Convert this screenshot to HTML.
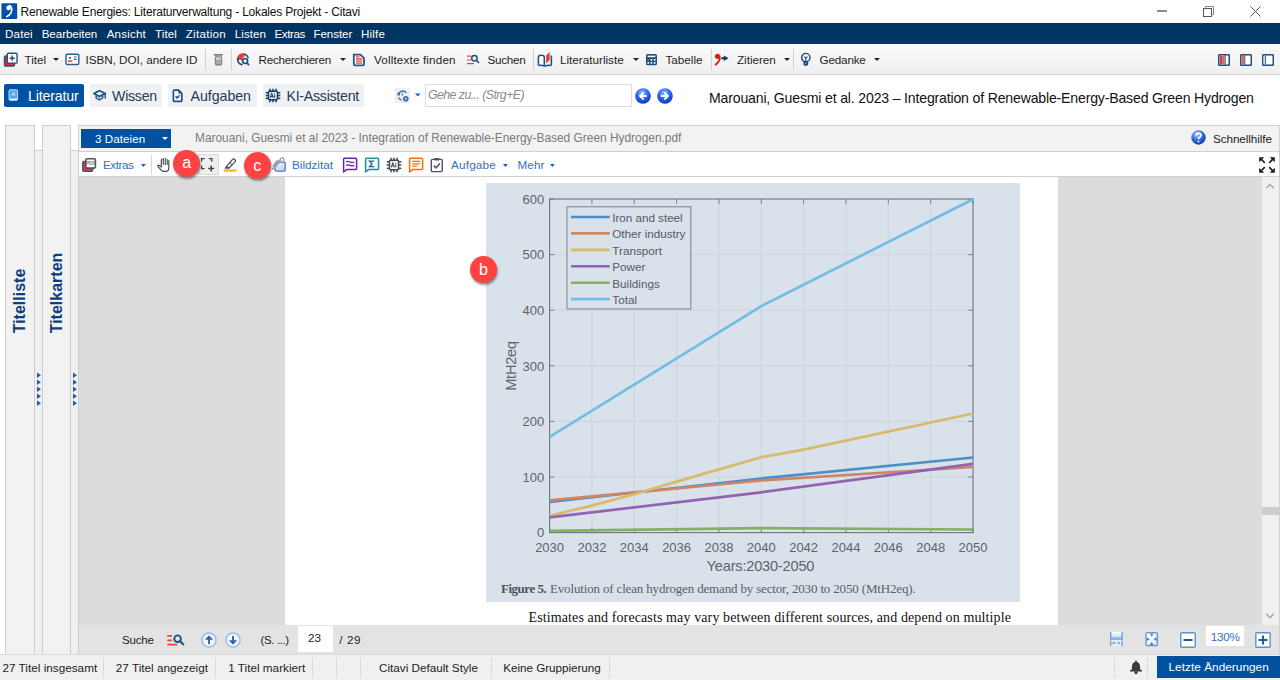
<!DOCTYPE html>
<html><head><meta charset="utf-8"><style>
html,body{margin:0;padding:0;width:1280px;height:680px;overflow:hidden;background:#fff;position:relative;font-family:"Liberation Sans",sans-serif}
.t{position:absolute;white-space:nowrap}
.r{position:absolute;box-sizing:border-box}
</style></head><body>
<div class="r" style="left:0px;top:0px;width:1280px;height:23px;background:#fff"></div>
<div class="t" style="left:20.5px;top:5.84px;font-size:12px;line-height:12px;color:#111;font-weight:normal;font-style:normal;font-family:'Liberation Sans',sans-serif;letter-spacing:-0.202px;">Renewable Energies: Literaturverwaltung - Lokales Projekt - Citavi</div>
<div class="r" style="left:0px;top:23px;width:1280px;height:21px;background:#003462"></div>
<div class="t" style="left:5.1px;top:28.28px;font-size:11.6px;line-height:11.6px;color:#fff;font-weight:normal;font-style:normal;font-family:'Liberation Sans',sans-serif;letter-spacing:0.124px;">Datei</div>
<div class="t" style="left:41.7px;top:28.28px;font-size:11.6px;line-height:11.6px;color:#fff;font-weight:normal;font-style:normal;font-family:'Liberation Sans',sans-serif;letter-spacing:-0.061px;">Bearbeiten</div>
<div class="t" style="left:106.7px;top:28.28px;font-size:11.6px;line-height:11.6px;color:#fff;font-weight:normal;font-style:normal;font-family:'Liberation Sans',sans-serif;letter-spacing:0.180px;">Ansicht</div>
<div class="t" style="left:155.1px;top:28.28px;font-size:11.6px;line-height:11.6px;color:#fff;font-weight:normal;font-style:normal;font-family:'Liberation Sans',sans-serif;letter-spacing:0.063px;">Titel</div>
<div class="t" style="left:185.7px;top:28.28px;font-size:11.6px;line-height:11.6px;color:#fff;font-weight:normal;font-style:normal;font-family:'Liberation Sans',sans-serif;letter-spacing:0.283px;">Zitation</div>
<div class="t" style="left:234.8px;top:28.28px;font-size:11.6px;line-height:11.6px;color:#fff;font-weight:normal;font-style:normal;font-family:'Liberation Sans',sans-serif;letter-spacing:0.041px;">Listen</div>
<div class="t" style="left:274.5px;top:28.28px;font-size:11.6px;line-height:11.6px;color:#fff;font-weight:normal;font-style:normal;font-family:'Liberation Sans',sans-serif;letter-spacing:-0.396px;">Extras</div>
<div class="t" style="left:313.5px;top:28.28px;font-size:11.6px;line-height:11.6px;color:#fff;font-weight:normal;font-style:normal;font-family:'Liberation Sans',sans-serif;letter-spacing:-0.089px;">Fenster</div>
<div class="t" style="left:361.1px;top:28.28px;font-size:11.6px;line-height:11.6px;color:#fff;font-weight:normal;font-style:normal;font-family:'Liberation Sans',sans-serif;letter-spacing:0.139px;">Hilfe</div>
<div class="r" style="left:0px;top:44px;width:1280px;height:31px;background:linear-gradient(#fafafa,#efefef);border-bottom:1px solid #d2d2d2"></div>
<div class="t" style="left:24.5px;top:54.10px;font-size:11.7px;line-height:11.7px;color:#1e1e1e;font-weight:normal;font-style:normal;font-family:'Liberation Sans',sans-serif;letter-spacing:-0.034px;">Titel</div>
<div class="t" style="left:85.5px;top:54.10px;font-size:11.7px;line-height:11.7px;color:#1e1e1e;font-weight:normal;font-style:normal;font-family:'Liberation Sans',sans-serif;letter-spacing:-0.025px;">ISBN, DOI, andere ID</div>
<div class="t" style="left:258.5px;top:54.10px;font-size:11.7px;line-height:11.7px;color:#1e1e1e;font-weight:normal;font-style:normal;font-family:'Liberation Sans',sans-serif;letter-spacing:-0.276px;">Recherchieren</div>
<div class="t" style="left:374.0px;top:54.10px;font-size:11.7px;line-height:11.7px;color:#1e1e1e;font-weight:normal;font-style:normal;font-family:'Liberation Sans',sans-serif;letter-spacing:0.153px;">Volltexte finden</div>
<div class="t" style="left:487.5px;top:54.10px;font-size:11.7px;line-height:11.7px;color:#1e1e1e;font-weight:normal;font-style:normal;font-family:'Liberation Sans',sans-serif;letter-spacing:-0.280px;">Suchen</div>
<div class="t" style="left:560.0px;top:54.10px;font-size:11.7px;line-height:11.7px;color:#1e1e1e;font-weight:normal;font-style:normal;font-family:'Liberation Sans',sans-serif;letter-spacing:0.002px;">Literaturliste</div>
<div class="t" style="left:665.5px;top:54.10px;font-size:11.7px;line-height:11.7px;color:#1e1e1e;font-weight:normal;font-style:normal;font-family:'Liberation Sans',sans-serif;letter-spacing:-0.011px;">Tabelle</div>
<div class="t" style="left:737.0px;top:54.10px;font-size:11.7px;line-height:11.7px;color:#1e1e1e;font-weight:normal;font-style:normal;font-family:'Liberation Sans',sans-serif;letter-spacing:-0.033px;">Zitieren</div>
<div class="t" style="left:819.5px;top:54.10px;font-size:11.7px;line-height:11.7px;color:#1e1e1e;font-weight:normal;font-style:normal;font-family:'Liberation Sans',sans-serif;letter-spacing:-0.177px;">Gedanke</div>
<div class="r" style="left:205px;top:49px;width:1px;height:21px;background:#d0d0d0"></div>
<div class="r" style="left:230.5px;top:49px;width:1px;height:21px;background:#d0d0d0"></div>
<div class="r" style="left:533px;top:49px;width:1px;height:21px;background:#d0d0d0"></div>
<div class="r" style="left:710.5px;top:49px;width:1px;height:21px;background:#d0d0d0"></div>
<div class="r" style="left:793.25px;top:49px;width:1px;height:21px;background:#d0d0d0"></div>
<svg class="r" style="left:53px;top:58px" width="6" height="3" viewBox="0 0 6 3"><path d="M0 0H6L3 3Z" fill="#222"/></svg>
<svg class="r" style="left:340px;top:58px" width="6" height="3" viewBox="0 0 6 3"><path d="M0 0H6L3 3Z" fill="#222"/></svg>
<svg class="r" style="left:632.5px;top:58px" width="6" height="3" viewBox="0 0 6 3"><path d="M0 0H6L3 3Z" fill="#222"/></svg>
<svg class="r" style="left:783.75px;top:58px" width="6" height="3" viewBox="0 0 6 3"><path d="M0 0H6L3 3Z" fill="#222"/></svg>
<svg class="r" style="left:873.75px;top:58px" width="6" height="3" viewBox="0 0 6 3"><path d="M0 0H6L3 3Z" fill="#222"/></svg>
<div class="r" style="left:0px;top:75px;width:1280px;height:49px;background:#fff"></div>
<div class="r" style="left:4px;top:84px;width:80px;height:23px;background:#0051a0;border-radius:2px"></div>
<div class="r" style="left:90px;top:84px;width:72px;height:23px;background:#eff1f3;border-radius:2px"></div>
<div class="r" style="left:168px;top:84px;width:89px;height:23px;background:#eff1f3;border-radius:2px"></div>
<div class="r" style="left:263px;top:84px;width:101px;height:23px;background:#eff1f3;border-radius:2px"></div>
<div class="t" style="left:28px;top:89.38px;font-size:14.2px;line-height:14.2px;color:#fff;font-weight:normal;font-style:normal;font-family:'Liberation Sans',sans-serif;letter-spacing:-0.166px;">Literatur</div>
<div class="t" style="left:112px;top:89.38px;font-size:14.2px;line-height:14.2px;color:#243a5a;font-weight:normal;font-style:normal;font-family:'Liberation Sans',sans-serif;letter-spacing:-0.259px;">Wissen</div>
<div class="t" style="left:190.5px;top:89.38px;font-size:14.2px;line-height:14.2px;color:#243a5a;font-weight:normal;font-style:normal;font-family:'Liberation Sans',sans-serif;letter-spacing:-0.038px;">Aufgaben</div>
<div class="t" style="left:286.5px;top:89.38px;font-size:14.2px;line-height:14.2px;color:#243a5a;font-weight:normal;font-style:normal;font-family:'Liberation Sans',sans-serif;letter-spacing:-0.271px;">KI-Assistent</div>
<div class="r" style="left:425px;top:84px;width:207px;height:23px;background:#fff;border:1px solid #dcdcdc"></div>
<div class="t" style="left:428px;top:89.39px;font-size:12.3px;line-height:12.3px;color:#8a8a8a;font-weight:normal;font-style:italic;font-family:'Liberation Sans',sans-serif;letter-spacing:-0.542px;">Gehe zu... (Strg+E)</div>
<div class="t" style="left:709px;top:91.06px;font-size:14.1px;line-height:14.1px;color:#111;font-weight:normal;font-style:normal;font-family:'Liberation Sans',sans-serif;letter-spacing:-0.176px;">Marouani, Guesmi et al. 2023 – Integration of Renewable-Energy-Based Green Hydrogen</div>
<div class="r" style="left:34px;top:150px;width:9px;height:504px;background:#f0f0f0;border-top:1px solid #d0d0d0"></div>
<div class="r" style="left:70px;top:150px;width:9px;height:504px;background:#f0f0f0;border-top:1px solid #d0d0d0"></div>
<div class="r" style="left:4.5px;top:124.5px;width:30px;height:530px;background:#f2f2f2;border:1px solid #cfcfcf"></div>
<div class="r" style="left:42px;top:124.5px;width:29px;height:530px;background:#f2f2f2;border:1px solid #cfcfcf"></div>
<div class="r" style="left:78px;top:124.5px;width:1202px;height:530px;background:#f2f2f2;border:1px solid #cfcfcf"></div>
<div class="r" style="left:80.5px;top:128.7px;width:90px;height:19.3px;background:#0051a0"></div>
<div class="t" style="left:95px;top:133.38px;font-size:11.6px;line-height:11.6px;color:#fff;font-weight:normal;font-style:normal;font-family:'Liberation Sans',sans-serif;letter-spacing:0.071px;">3 Dateien</div>
<svg class="r" style="left:162px;top:137px" width="6" height="3" viewBox="0 0 6 3"><path d="M0 0H6L3 3Z" fill="#fff"/></svg>
<div class="t" style="left:195px;top:133.13px;font-size:11.9px;line-height:11.9px;color:#7a7a7a;font-weight:normal;font-style:normal;font-family:'Liberation Sans',sans-serif;letter-spacing:0.007px;">Marouani, Guesmi et al 2023 - Integration of Renewable-Energy-Based Green Hydrogen.pdf</div>
<div class="t" style="left:1213px;top:133.10px;font-size:11.7px;line-height:11.7px;color:#222;font-weight:normal;font-style:normal;font-family:'Liberation Sans',sans-serif;letter-spacing:-0.070px;">Schnellhilfe</div>
<div class="r" style="left:79px;top:151px;width:1200px;height:26px;background:#fff;border-top:1px solid #cfcfcf;border-bottom:1px solid #cfcfcf"></div>
<div class="t" style="left:103px;top:159.40px;font-size:11.7px;line-height:11.7px;color:#2f6fcf;font-weight:normal;font-style:normal;font-family:'Liberation Sans',sans-serif;letter-spacing:-0.443px;">Extras</div>
<div class="t" style="left:292px;top:159.40px;font-size:11.7px;line-height:11.7px;color:#2f6fcf;font-weight:normal;font-style:normal;font-family:'Liberation Sans',sans-serif;letter-spacing:0.004px;">Bildzitat</div>
<div class="t" style="left:451px;top:159.40px;font-size:11.7px;line-height:11.7px;color:#2f6fcf;font-weight:normal;font-style:normal;font-family:'Liberation Sans',sans-serif;letter-spacing:0.202px;">Aufgabe</div>
<div class="t" style="left:517.5px;top:159.40px;font-size:11.7px;line-height:11.7px;color:#2f6fcf;font-weight:normal;font-style:normal;font-family:'Liberation Sans',sans-serif;letter-spacing:0.086px;">Mehr</div>
<div class="r" style="left:150.5px;top:155px;width:1px;height:20px;background:#d6d6d6"></div>
<div class="r" style="left:79px;top:177px;width:1183px;height:447.5px;background:#dcdcdc"></div>
<div class="r" style="left:285px;top:177px;width:773px;height:447.5px;background:#fff"></div>
<div class="r" style="left:485.5px;top:182.5px;width:534px;height:419px;background:#d9e1ea"></div>
<svg class="r" style="left:485px;top:182px" width="535" height="420" viewBox="485 182 535 420"><path d="M591.94 199V532.6" stroke="#c9d0d9" stroke-width="0.8"/><path d="M634.28 199V532.6" stroke="#c9d0d9" stroke-width="0.8"/><path d="M676.62 199V532.6" stroke="#c9d0d9" stroke-width="0.8"/><path d="M718.96 199V532.6" stroke="#c9d0d9" stroke-width="0.8"/><path d="M761.30 199V532.6" stroke="#c9d0d9" stroke-width="0.8"/><path d="M803.64 199V532.6" stroke="#c9d0d9" stroke-width="0.8"/><path d="M845.98 199V532.6" stroke="#c9d0d9" stroke-width="0.8"/><path d="M888.32 199V532.6" stroke="#c9d0d9" stroke-width="0.8"/><path d="M930.66 199V532.6" stroke="#c9d0d9" stroke-width="0.8"/><path d="M549.6 477.00H973" stroke="#c9d0d9" stroke-width="0.8"/><path d="M549.6 421.40H973" stroke="#c9d0d9" stroke-width="0.8"/><path d="M549.6 365.80H973" stroke="#c9d0d9" stroke-width="0.8"/><path d="M549.6 310.20H973" stroke="#c9d0d9" stroke-width="0.8"/><path d="M549.6 254.60H973" stroke="#c9d0d9" stroke-width="0.8"/><path d="M549.60 532.6V528M549.60 199V203.6" stroke="#6e757d" stroke-width="0.9"/><path d="M591.94 532.6V528M591.94 199V203.6" stroke="#6e757d" stroke-width="0.9"/><path d="M634.28 532.6V528M634.28 199V203.6" stroke="#6e757d" stroke-width="0.9"/><path d="M676.62 532.6V528M676.62 199V203.6" stroke="#6e757d" stroke-width="0.9"/><path d="M718.96 532.6V528M718.96 199V203.6" stroke="#6e757d" stroke-width="0.9"/><path d="M761.30 532.6V528M761.30 199V203.6" stroke="#6e757d" stroke-width="0.9"/><path d="M803.64 532.6V528M803.64 199V203.6" stroke="#6e757d" stroke-width="0.9"/><path d="M845.98 532.6V528M845.98 199V203.6" stroke="#6e757d" stroke-width="0.9"/><path d="M888.32 532.6V528M888.32 199V203.6" stroke="#6e757d" stroke-width="0.9"/><path d="M930.66 532.6V528M930.66 199V203.6" stroke="#6e757d" stroke-width="0.9"/><path d="M973.00 532.6V528M973.00 199V203.6" stroke="#6e757d" stroke-width="0.9"/><path d="M549.6 532.60H554.2M973 532.60H968.4" stroke="#6e757d" stroke-width="0.9"/><path d="M549.6 477.00H554.2M973 477.00H968.4" stroke="#6e757d" stroke-width="0.9"/><path d="M549.6 421.40H554.2M973 421.40H968.4" stroke="#6e757d" stroke-width="0.9"/><path d="M549.6 365.80H554.2M973 365.80H968.4" stroke="#6e757d" stroke-width="0.9"/><path d="M549.6 310.20H554.2M973 310.20H968.4" stroke="#6e757d" stroke-width="0.9"/><path d="M549.6 254.60H554.2M973 254.60H968.4" stroke="#6e757d" stroke-width="0.9"/><path d="M549.6 199.00H554.2M973 199.00H968.4" stroke="#6e757d" stroke-width="0.9"/><rect x="549.6" y="199" width="423.4" height="333.6" fill="none" stroke="#6e757d" stroke-width="1.1"/><polyline points="549.60,502.0 761.30,478.5 973.00,457.5" fill="none" stroke="#4a8fc8" stroke-width="2.7" stroke-linejoin="round"/><polyline points="549.60,500.3 761.30,480.5 973.00,467.0" fill="none" stroke="#d08466" stroke-width="2.7" stroke-linejoin="round"/><polyline points="549.60,515.8 591.94,505.6 634.28,494.2 676.62,481.6 718.96,469.4 761.30,457.2 803.64,449.6 973.00,413.5" fill="none" stroke="#d9b96a" stroke-width="2.7" stroke-linejoin="round"/><polyline points="549.60,517.4 761.30,492.3 973.00,463.8" fill="none" stroke="#9263b0" stroke-width="2.7" stroke-linejoin="round"/><polyline points="549.60,530.8 761.30,528.2 973.00,529.5" fill="none" stroke="#84b066" stroke-width="2.7" stroke-linejoin="round"/><polyline points="549.60,436.8 761.30,306.1 973.00,199.2" fill="none" stroke="#72bde6" stroke-width="2.7" stroke-linejoin="round"/><rect x="567" y="206.8" width="123.8" height="102.2" fill="#d9e1ea" stroke="#7b838b" stroke-width="1"/><path d="M571 217.00H609.7" stroke="#4a8fc8" stroke-width="2.6"/><path d="M571 233.42H609.7" stroke="#d08466" stroke-width="2.6"/><path d="M571 249.84H609.7" stroke="#d9b96a" stroke-width="2.6"/><path d="M571 266.26H609.7" stroke="#9263b0" stroke-width="2.6"/><path d="M571 282.68H609.7" stroke="#84b066" stroke-width="2.6"/><path d="M571 299.10H609.7" stroke="#72bde6" stroke-width="2.6"/></svg>
<div class="t" style="left:612.3px;top:211.90px;font-size:11.7px;line-height:11.7px;color:#555c64;font-weight:normal;font-style:normal;font-family:'Liberation Sans',sans-serif;letter-spacing:-0.035px;">Iron and steel</div>
<div class="t" style="left:612.3px;top:228.32px;font-size:11.7px;line-height:11.7px;color:#555c64;font-weight:normal;font-style:normal;font-family:'Liberation Sans',sans-serif;letter-spacing:-0.020px;">Other industry</div>
<div class="t" style="left:612.3px;top:244.74px;font-size:11.7px;line-height:11.7px;color:#555c64;font-weight:normal;font-style:normal;font-family:'Liberation Sans',sans-serif;">Transport</div>
<div class="t" style="left:612.3px;top:261.16px;font-size:11.7px;line-height:11.7px;color:#555c64;font-weight:normal;font-style:normal;font-family:'Liberation Sans',sans-serif;">Power</div>
<div class="t" style="left:612.3px;top:277.58px;font-size:11.7px;line-height:11.7px;color:#555c64;font-weight:normal;font-style:normal;font-family:'Liberation Sans',sans-serif;">Buildings</div>
<div class="t" style="left:612.3px;top:294.00px;font-size:11.7px;line-height:11.7px;color:#555c64;font-weight:normal;font-style:normal;font-family:'Liberation Sans',sans-serif;">Total</div>
<div class="t" style="left:480px;width:64.3px;text-align:right;top:526.30px;font-size:13px;line-height:13px;color:#5d646c">0</div>
<div class="t" style="left:480px;width:64.3px;text-align:right;top:470.70px;font-size:13px;line-height:13px;color:#5d646c">100</div>
<div class="t" style="left:480px;width:64.3px;text-align:right;top:415.10px;font-size:13px;line-height:13px;color:#5d646c">200</div>
<div class="t" style="left:480px;width:64.3px;text-align:right;top:359.50px;font-size:13px;line-height:13px;color:#5d646c">300</div>
<div class="t" style="left:480px;width:64.3px;text-align:right;top:303.90px;font-size:13px;line-height:13px;color:#5d646c">400</div>
<div class="t" style="left:480px;width:64.3px;text-align:right;top:248.30px;font-size:13px;line-height:13px;color:#5d646c">500</div>
<div class="t" style="left:480px;width:64.3px;text-align:right;top:192.70px;font-size:13px;line-height:13px;color:#5d646c">600</div>
<div class="t" style="left:519.60px;width:60px;text-align:center;top:540.60px;font-size:13px;line-height:13px;color:#5d646c">2030</div>
<div class="t" style="left:561.94px;width:60px;text-align:center;top:540.60px;font-size:13px;line-height:13px;color:#5d646c">2032</div>
<div class="t" style="left:604.28px;width:60px;text-align:center;top:540.60px;font-size:13px;line-height:13px;color:#5d646c">2034</div>
<div class="t" style="left:646.62px;width:60px;text-align:center;top:540.60px;font-size:13px;line-height:13px;color:#5d646c">2036</div>
<div class="t" style="left:688.96px;width:60px;text-align:center;top:540.60px;font-size:13px;line-height:13px;color:#5d646c">2038</div>
<div class="t" style="left:731.30px;width:60px;text-align:center;top:540.60px;font-size:13px;line-height:13px;color:#5d646c">2040</div>
<div class="t" style="left:773.64px;width:60px;text-align:center;top:540.60px;font-size:13px;line-height:13px;color:#5d646c">2042</div>
<div class="t" style="left:815.98px;width:60px;text-align:center;top:540.60px;font-size:13px;line-height:13px;color:#5d646c">2044</div>
<div class="t" style="left:858.32px;width:60px;text-align:center;top:540.60px;font-size:13px;line-height:13px;color:#5d646c">2046</div>
<div class="t" style="left:900.66px;width:60px;text-align:center;top:540.60px;font-size:13px;line-height:13px;color:#5d646c">2048</div>
<div class="t" style="left:943.00px;width:60px;text-align:center;top:540.60px;font-size:13px;line-height:13px;color:#5d646c">2050</div>
<div class="t" style="left:706.6px;top:558.84px;font-size:14.6px;line-height:14.6px;color:#5d646c;font-weight:normal;font-style:normal;font-family:'Liberation Sans',sans-serif;letter-spacing:-0.198px;">Years:2030-2050</div>
<div class="t" style="left:511.2px;top:366px;transform:translate(-50%,-50%) rotate(-90deg);font-size:14.5px;line-height:14.5px;color:#5d646c;letter-spacing:-0.2px">MtH2eq</div>
<div class="t" style="left:501px;top:582.40px;font-size:13px;line-height:13px;color:#4f5458;font-weight:bold;font-style:normal;font-family:'Liberation Serif',sans-serif;letter-spacing:-0.488px;">Figure 5.</div>
<div class="t" style="left:550px;top:582.40px;font-size:13px;line-height:13px;color:#5b6064;font-weight:normal;font-style:normal;font-family:'Liberation Serif',sans-serif;letter-spacing:-0.160px;">Evolution of clean hydrogen demand by sector, 2030 to 2050 (MtH2eq).</div>
<div class="r" style="left:285px;top:600px;width:773px;height:24.5px;overflow:hidden"><div class="t" style="left:243.5px;top:11.15px;font-size:14px;line-height:14px;color:#111;font-weight:normal;font-style:normal;font-family:'Liberation Serif',sans-serif;letter-spacing:0.113px;">Estimates and forecasts may vary between different sources, and depend on multiple</div>
</div>
<div class="r" style="left:1262px;top:177px;width:17px;height:447.5px;background:#f0f0f0"></div>
<div class="r" style="left:1262px;top:507px;width:17px;height:8px;background:#cdcdcd"></div>
<div class="r" style="left:79px;top:624.5px;width:1200px;height:29.5px;background:#e3e3e3"></div>
<div class="r" style="left:297.5px;top:626.3px;width:35px;height:26.2px;background:#fff"></div>
<div class="t" style="left:122px;top:635.27px;font-size:11.5px;line-height:11.5px;color:#222;font-weight:normal;font-style:normal;font-family:'Liberation Sans',sans-serif;letter-spacing:-0.162px;">Suche</div>
<div class="t" style="left:260.5px;top:635.27px;font-size:11.5px;line-height:11.5px;color:#222;font-weight:normal;font-style:normal;font-family:'Liberation Sans',sans-serif;letter-spacing:-0.376px;">(S. ...)</div>
<div class="t" style="left:308px;top:631.60px;font-size:11.7px;line-height:11.7px;color:#222;font-weight:normal;font-style:normal;font-family:'Liberation Sans',sans-serif;letter-spacing:-0.107px;">23</div>
<div class="t" style="left:339.2px;top:634.40px;font-size:11.7px;line-height:11.7px;color:#222;font-weight:normal;font-style:normal;font-family:'Liberation Sans',sans-serif;letter-spacing:0.621px;">/ 29</div>
<div class="r" style="left:1206.3px;top:626.3px;width:37.5px;height:19.8px;background:#fff"></div>
<div class="t" style="left:1210.7px;top:631.30px;font-size:11.7px;line-height:11.7px;color:#2f6fcf;font-weight:normal;font-style:normal;font-family:'Liberation Sans',sans-serif;letter-spacing:-0.231px;">130%</div>
<div class="r" style="left:0px;top:654px;width:1280px;height:26px;background:#f0f0f0;border-top:1px solid #dadada"></div>
<div class="t" style="left:2.5px;top:662.40px;font-size:11.7px;line-height:11.7px;color:#222;font-weight:normal;font-style:normal;font-family:'Liberation Sans',sans-serif;letter-spacing:0.027px;">27 Titel insgesamt</div>
<div class="t" style="left:115.8px;top:662.40px;font-size:11.7px;line-height:11.7px;color:#222;font-weight:normal;font-style:normal;font-family:'Liberation Sans',sans-serif;letter-spacing:0.029px;">27 Titel angezeigt</div>
<div class="t" style="left:228.3px;top:662.40px;font-size:11.7px;line-height:11.7px;color:#222;font-weight:normal;font-style:normal;font-family:'Liberation Sans',sans-serif;letter-spacing:0.017px;">1 Titel markiert</div>
<div class="t" style="left:379.0px;top:662.40px;font-size:11.7px;line-height:11.7px;color:#222;font-weight:normal;font-style:normal;font-family:'Liberation Sans',sans-serif;letter-spacing:0.008px;">Citavi Default Style</div>
<div class="t" style="left:503.3px;top:662.40px;font-size:11.7px;line-height:11.7px;color:#222;font-weight:normal;font-style:normal;font-family:'Liberation Sans',sans-serif;letter-spacing:-0.045px;">Keine Gruppierung</div>
<div class="r" style="left:103px;top:657px;width:1px;height:21px;background:#dadada"></div>
<div class="r" style="left:215px;top:657px;width:1px;height:21px;background:#dadada"></div>
<div class="r" style="left:312px;top:657px;width:1px;height:21px;background:#dadada"></div>
<div class="r" style="left:336px;top:657px;width:1px;height:21px;background:#dadada"></div>
<div class="r" style="left:360px;top:657px;width:1px;height:21px;background:#dadada"></div>
<div class="r" style="left:491px;top:657px;width:1px;height:21px;background:#dadada"></div>
<div class="r" style="left:609px;top:657px;width:1px;height:21px;background:#dadada"></div>
<div class="r" style="left:1114px;top:657px;width:1px;height:21px;background:#dadada"></div>
<div class="r" style="left:1147px;top:657px;width:1px;height:21px;background:#dadada"></div>
<div class="r" style="left:1157.3px;top:656.3px;width:122.7px;height:21.7px;background:#0051a0"></div>
<div class="t" style="left:1168.5px;top:662.31px;font-size:11.8px;line-height:11.8px;color:#fff;font-weight:normal;font-style:normal;font-family:'Liberation Sans',sans-serif;letter-spacing:0.034px;">Letzte Änderungen</div>
<svg class="r" style="left:1px;top:3px" width="17" height="17" viewBox="0 0 17 17"><rect x="0.4" y="0.2" width="15.8" height="15.9" rx="0.8" fill="#0450a8"/><circle cx="7.6" cy="4.9" r="2.4" fill="#fff"/><path d="M8.4 2.6C11.2 3.4 11.3 7.6 9.8 10.2 8.8 11.9 7.4 13 5.8 13.6" stroke="#fff" stroke-width="1.6" fill="none" stroke-linecap="round"/></svg>
<div class="r" style="left:1157px;top:10px;width:10px;height:1.5px;background:#8a8a8a"></div>
<svg class="r" style="left:1202px;top:5px" width="13" height="13" viewBox="0 0 13 13"><rect x="1.5" y="3.5" width="8" height="8" fill="none" stroke="#555"/><path d="M3.5 3.5V1.5H11.5V9.5H9.5" fill="none" stroke="#888"/></svg>
<svg class="r" style="left:1249px;top:5px" width="13" height="13" viewBox="0 0 13 13"><path d="M1.5 1.5L11.5 11.5M11.5 1.5L1.5 11.5" stroke="#555" stroke-width="1"/></svg>
<svg class="r" style="left:3px;top:52px" width="16" height="16" viewBox="0 0 16 16"><rect x="1.5" y="4" width="10" height="10" rx="1.2" fill="#d33" stroke="#2a4f7a" stroke-width="1.4"/><rect x="4.3" y="1.3" width="9.8" height="9.8" rx="1.2" fill="#fff" stroke="#2a4f7a" stroke-width="1.4"/><path d="M9.2 3.6V8.8M6.6 6.2H11.8" stroke="#2a4f7a" stroke-width="1.5"/></svg>
<svg class="r" style="left:65px;top:53px" width="15" height="13" viewBox="0 0 15 13"><rect x="1" y="1.2" width="12.8" height="10.3" rx="1.3" fill="#fff" stroke="#2f5d8e" stroke-width="1.4"/><circle cx="5" cy="4.8" r="1.1" fill="#2f5d8e"/><rect x="3" y="7.3" width="4.3" height="1.6" fill="#e8473a"/><path d="M8.8 4H11.6M8.8 6.4H11.6" stroke="#2f5d8e" stroke-width="1.1"/></svg>
<svg class="r" style="left:213px;top:53px" width="11" height="14" viewBox="0 0 11 14"><rect x="0.8" y="1" width="8.8" height="1.8" rx="0.5" fill="#7d7d7d"/><rect x="1.8" y="3.2" width="7.4" height="9.3" rx="1.4" fill="#858585"/><rect x="3" y="4.5" width="5" height="2.2" fill="#ddd"/><rect x="3" y="7" width="5" height="4" fill="#aaa"/></svg>
<svg class="r" style="left:233px;top:50px" width="20" height="20" viewBox="0 0 20 20"><path d="M3.9 8.3A6.2 6.2 0 0 1 12.1 3.6L11.4 6.4 9.6 7.6 9.2 10.8 7.4 9.8 5.2 9.9Z" fill="#e8392f"/><path d="M11.85 4.32A5.4 5.4 0 0 1 15.08 7.55M4.68 8.46A5.4 5.4 0 0 0 9.06 14.72" fill="none" stroke="#1f4e80" stroke-width="1.6" stroke-linecap="round"/><circle cx="12.1" cy="11" r="2.5" fill="none" stroke="#1f4e80" stroke-width="1.6"/><path d="M13.9 12.8L15.6 14.6" stroke="#1f4e80" stroke-width="1.7" stroke-linecap="round"/></svg>
<svg class="r" style="left:352px;top:53px" width="14" height="14" viewBox="0 0 14 14"><path d="M1.8 1.6H8.4L12 5.2V11.2Q12 12.4 10.8 12.4H3Q1.8 12.4 1.8 11.2Z" fill="#fff" stroke="#2a5585" stroke-width="1.8"/><path d="M3.9 3.8H7.4M3.9 6H10.2M3.9 8.2H10.2M3.9 10.2H10.2" stroke="#e6463c" stroke-width="1.3"/></svg>
<svg class="r" style="left:466px;top:53px" width="15" height="13" viewBox="0 0 15 13"><path d="M1 3.2H5M1 7H5M1 10.6H8" stroke="#e8453a" stroke-width="1.2"/><circle cx="8.4" cy="5.3" r="2.7" fill="none" stroke="#1f4e80" stroke-width="1.5"/><path d="M10.4 7.3L13 10" stroke="#1f4e80" stroke-width="1.6"/></svg>
<svg class="r" style="left:535px;top:50px" width="20" height="20" viewBox="0 0 20 20"><path d="M3.4 15.2V7.2Q3.4 5.2 6.3 5.2Q9.3 5.2 9.3 7.2V15.2" fill="#fff" stroke="#1f4e80" stroke-width="1.5"/><path d="M3.4 15.4Q6.6 14.6 9.8 16.2Q13 14.6 16.4 15.4M16.4 5.6V15.4" fill="none" stroke="#1f4e80" stroke-width="1.5"/><path d="M11.2 13.5V5.6L14.7 2.1V9.7Z" fill="#e8392f"/></svg>
<svg class="r" style="left:645px;top:53px" width="13" height="13" viewBox="0 0 13 13"><rect x="1" y="1" width="11" height="11.3" rx="1.6" fill="#1f4e80"/><rect x="2.6" y="2.6" width="7.8" height="1.6" fill="#fff"/><rect x="2.4" y="6" width="1.7" height="1.7" fill="#e8392f"/><rect x="5.6" y="6" width="1.7" height="1.7" fill="#fff"/><rect x="8.8" y="6" width="1.7" height="1.7" fill="#fff"/><rect x="2.4" y="9" width="1.7" height="1.7" fill="#fff"/><rect x="5.6" y="9" width="1.7" height="1.7" fill="#fff"/><rect x="8.8" y="9" width="1.7" height="1.7" fill="#fff"/></svg>
<svg class="r" style="left:711px;top:50px" width="20" height="20" viewBox="0 0 20 20"><circle cx="6.5" cy="6.3" r="2.6" fill="#dd1f16"/><path d="M8.6 6.4Q9.4 11.2 4.6 14.6" fill="none" stroke="#dd1f16" stroke-width="1.9" stroke-linecap="round"/><rect x="10.4" y="7.1" width="3" height="2.3" fill="#0f3f73"/><path d="M12.9 5.6L17.6 8.25 12.9 10.9Z" fill="#0f3f73"/></svg>
<svg class="r" style="left:800px;top:52px" width="12" height="15" viewBox="0 0 12 15"><circle cx="5.8" cy="5.6" r="4.2" fill="none" stroke="#1f4e80" stroke-width="1.4"/><path d="M4.2 4.7L5.8 6.2 7.4 4.7M5.8 6.2V9" fill="none" stroke="#1f4e80" stroke-width="1.1"/><path d="M3.4 9.2H8.2V12.2Q8.2 13.7 5.8 13.9Q3.4 13.7 3.4 12.2Z" fill="#1f4e80"/><circle cx="5.8" cy="11.6" r="0.8" fill="#8aa"/></svg>
<svg class="r" style="left:1218px;top:54px" width="12" height="12" viewBox="0 0 12 12"><rect x="0.7" y="0.7" width="10.6" height="10.6" rx="1.2" fill="#fff" stroke="#244f7f" stroke-width="1.6"/><rect x="1.8" y="1.6" width="1.4" height="8.8" fill="#e0483b"/><rect x="3.2" y="1.6" width="1.2" height="8.8" fill="#7a2b3a"/><rect x="4.4" y="1.6" width="2.2" height="8.8" fill="#f06050"/><path d="M7.2 1V11" stroke="#2f5d8e" stroke-width="1"/></svg>
<svg class="r" style="left:1240px;top:54px" width="12" height="12" viewBox="0 0 12 12"><rect x="0.7" y="0.7" width="10.6" height="10.6" rx="1.2" fill="#fff" stroke="#244f7f" stroke-width="1.6"/><rect x="1.8" y="1.6" width="2.4" height="8.8" fill="#f06050"/><path d="M4.8 1V11" stroke="#2f5d8e" stroke-width="1"/></svg>
<svg class="r" style="left:1261.5px;top:54px" width="12" height="12" viewBox="0 0 12 12"><rect x="0.7" y="0.7" width="10.6" height="10.6" rx="1.2" fill="#fff" stroke="#244f7f" stroke-width="1.6"/><path d="M3.6 1V11" stroke="#2f5d8e" stroke-width="1"/><rect x="1.6" y="1.6" width="1.5" height="8.8" fill="#c8d4e0"/></svg>
<svg class="r" style="left:8px;top:89px" width="11" height="13" viewBox="0 0 11 13"><rect x="1" y="0.8" width="8.6" height="10.4" rx="1" fill="#5aa5f0" stroke="#cfe6ff" stroke-width="0.9"/><rect x="1.6" y="9.6" width="7.6" height="1.6" fill="#eaf4ff"/><text x="5.3" y="6.8" font-size="5" font-family="Liberation Sans" fill="#fff" text-anchor="middle">A</text></svg>
<svg class="r" style="left:84px;top:84px" width="28" height="24" viewBox="0 0 28 24"><path d="M9.9 9.5L15.4 6.7 21.3 9.5 15.4 12.3Z" fill="#f6f7f8" stroke="#1f4e80" stroke-width="1.8" stroke-linejoin="round"/><path d="M11.4 11.2L15.4 13.2 19.4 11.2V14.3L15.4 16.7 11.4 14.3Z" fill="#1f4e80"/><path d="M12.8 13L15.4 14.4 18 13" fill="none" stroke="#f6f7f8" stroke-width="1.1"/><path d="M21.2 9.6V14.6" stroke="#1f4e80" stroke-width="1.4"/></svg>
<svg class="r" style="left:166px;top:84px" width="24" height="24" viewBox="0 0 24 24"><path d="M7.4 6.9Q7.4 6.2 8.2 6.2H12.6L15.8 9.4V16.6Q15.8 17.3 15.1 17.3H8.1Q7.4 17.3 7.4 16.6Z" fill="#fff" stroke="#1f4e80" stroke-width="1.7" stroke-linejoin="round"/><path d="M12.4 6.2L15.8 9.6H12.4Z" fill="#1f4e80"/><path d="M9.6 12.4L11.2 13.9 13.6 11.2" fill="none" stroke="#1f4e80" stroke-width="1.5"/></svg>
<svg class="r" style="left:265px;top:88px" width="16" height="15" viewBox="0 0 16 15"><g fill="#0f3f73"><rect x="3.5" y="3.3" width="9.0" height="8.4" rx="1" fill="none" stroke="#0f3f73" stroke-width="1.5"/><rect x="4.2" y="0.7" width="1.5" height="2.8"/><rect x="4.2" y="11.5" width="1.5" height="2.8"/><rect x="0.7" y="4.0" width="2.8" height="1.5"/><rect x="12.5" y="4.0" width="2.8" height="1.5"/><rect x="7.2" y="0.7" width="1.5" height="2.8"/><rect x="7.2" y="11.5" width="1.5" height="2.8"/><rect x="0.7" y="6.8" width="2.8" height="1.5"/><rect x="12.5" y="6.8" width="2.8" height="1.5"/><rect x="10.3" y="0.7" width="1.5" height="2.8"/><rect x="10.3" y="11.5" width="1.5" height="2.8"/><rect x="0.7" y="9.6" width="2.8" height="1.5"/><rect x="12.5" y="9.6" width="2.8" height="1.5"/><rect x="9.10" y="6.90" width="1.1" height="2.9"/><rect x="9.10" y="5.30" width="1.1" height="1"/></g><path d="M5.20 9.90L6.80 5.30L8.40 9.90M5.80 8.40H7.80" fill="none" stroke="#0f3f73" stroke-width="1.05"/></svg>
<div class="r" style="left:395px;top:88px;width:15px;height:15px;background:#eceff2"></div>
<svg class="r" style="left:396px;top:89px" width="14" height="14" viewBox="0 0 14 14"><path d="M2.2 6.6A4.6 4.6 0 0 1 10.4 3.8" fill="none" stroke="#3f6f9f" stroke-width="1.3"/><path d="M1.3 4.5L3.6 4.1 3.2 6.3Z" fill="#3f6f9f" stroke="#3f6f9f"/><path d="M2.6 8.6A4.6 4.6 0 0 0 5.6 11.2" fill="none" stroke="#3f6f9f" stroke-width="1.3"/><path d="M6.2 3.8V6.8" stroke="#3f6f9f" stroke-width="1"/><circle cx="9.8" cy="9.8" r="2.8" fill="#3f6f9f"/><rect x="9.3" y="8.6" width="1" height="2.4" fill="#fff"/></svg>
<svg class="r" style="left:415px;top:93px" width="6" height="4" viewBox="0 0 6 4"><path d="M0 0.5H5.5L2.75 3.5Z" fill="#1060d0"/></svg>
<svg class="r" style="left:635px;top:87.5px" width="16" height="16" viewBox="0 0 16 16"><defs><radialGradient id="gb635" cx="0.45" cy="0.3" r="0.75"><stop offset="0" stop-color="#9cc4ff"/><stop offset="0.45" stop-color="#2f6cf0"/><stop offset="1" stop-color="#0a2fb0"/></radialGradient></defs><circle cx="8" cy="8" r="7.8" fill="url(#gb635)"/><path d="M11 8H5.4M8.2 5L5 8 8.2 11" fill="none" stroke="#fff" stroke-width="1.8" stroke-linecap="round" stroke-linejoin="round"/></svg>
<svg class="r" style="left:657px;top:87.5px" width="16" height="16" viewBox="0 0 16 16"><defs><radialGradient id="gb657" cx="0.45" cy="0.3" r="0.75"><stop offset="0" stop-color="#9cc4ff"/><stop offset="0.45" stop-color="#2f6cf0"/><stop offset="1" stop-color="#0a2fb0"/></radialGradient></defs><circle cx="8" cy="8" r="7.8" fill="url(#gb657)"/><path d="M4.6 8H10.4M7.8 5L11 8 7.8 11" fill="none" stroke="#fff" stroke-width="1.8" stroke-linecap="round" stroke-linejoin="round"/></svg>
<svg class="r" style="left:1190.5px;top:130px" width="15" height="15" viewBox="0 0 15 15"><defs><radialGradient id="gh" cx="0.4" cy="0.3" r="0.8"><stop offset="0" stop-color="#a8c8ff"/><stop offset="0.5" stop-color="#2f6ae0"/><stop offset="1" stop-color="#0b2f9f"/></radialGradient></defs><circle cx="7.5" cy="7.5" r="7.2" fill="url(#gh)"/><path d="M5 5.6Q5 3.2 7.6 3.2Q10.2 3.3 10 5.5Q9.8 6.9 8.2 7.6Q7.5 8 7.5 9.2" fill="none" stroke="#fff" stroke-width="1.7"/><circle cx="7.5" cy="11.6" r="1" fill="#fff"/></svg>
<svg class="r" style="left:78px;top:154px" width="22" height="22" viewBox="0 0 22 22"><rect x="4.7" y="7.3" width="10" height="10" rx="1" fill="#e03a2e" stroke="#4a5560" stroke-width="1.3"/><rect x="7.8" y="4.7" width="9.6" height="9.4" rx="1.3" fill="#fff" stroke="#4a5560" stroke-width="1.6"/><text x="12.6" y="11.3" font-size="4.6" font-family="Liberation Sans" font-weight="bold" fill="#7a7a7a" text-anchor="middle">PDF</text></svg>
<svg class="r" style="left:140.5px;top:164px" width="5" height="3" viewBox="0 0 5 3"><path d="M0 0H4.8L2.4 2.9Z" fill="#0b5ed0"/></svg>
<svg class="r" style="left:156px;top:156px" width="16" height="17" viewBox="0 0 16 17"><path d="M5.3 11V4.4Q5.3 3.4 6.1 3.4M12.8 4.6V11.4Q12.8 15.4 9.6 15.4H7.8Q6.2 15.4 5.2 14.2L1.9 10.4Q1.4 9.6 2.1 9.2Q2.8 8.8 3.6 9.6L5.3 11.2" fill="#fff" stroke="#3c4650" stroke-width="1.15" stroke-linejoin="round" stroke-linecap="round"/><path d="M7.3 8.4V2.6M9.3 8.4V2.2M11.2 8.4V3.2" stroke="#3c4650" stroke-width="1.05" stroke-linecap="round"/></svg>
<div class="r" style="left:197.8px;top:154.3px;width:21px;height:21.2px;background:#efefef;border:1px solid #dadada"></div>
<svg class="r" style="left:200px;top:157px" width="16" height="16" viewBox="0 0 16 16"><path d="M1.6 4.6V1.6H4.6M8.8 1.6H11.8V4.6M1.6 8.6V11.6H4.6" fill="none" stroke="#3c4650" stroke-width="1.4"/><path d="M11.2 8.4V14.4M8.2 11.4H14.2" stroke="#3c4650" stroke-width="1.5"/></svg>
<svg class="r" style="left:223px;top:157px" width="14" height="16" viewBox="0 0 14 16"><path d="M3.4 9.6L9.6 2.4Q10.4 1.5 11.4 2.2L12.2 2.9Q13 3.8 12.2 4.6L5.8 11.2Z" fill="#fff" stroke="#4a525c" stroke-width="1.3" stroke-linejoin="round"/><path d="M3.4 9.6L2.2 11.4 3.4 11.2 5.8 11.2" fill="#4a525c" stroke="#4a525c" stroke-width="0.9"/><path d="M6.8 5.6L9.4 8" stroke="#4a525c" stroke-width="1"/><rect x="0.8" y="12.2" width="12.8" height="2.6" fill="#f6c22c"/></svg>
<svg class="r" style="left:268px;top:154px" width="22" height="22" viewBox="0 0 22 22"><defs><linearGradient id="gq" x1="0" y1="0" x2="1" y2="1"><stop offset="0" stop-color="#ffffff"/><stop offset="1" stop-color="#b4c6ee"/></linearGradient></defs><rect x="7.2" y="8.2" width="10" height="9" rx="1.2" fill="url(#gq)" stroke="#5078d0" stroke-width="1.3"/><path d="M4.2 15.4L12.6 4.8Q14 3 15.4 4.2Q16.6 5.4 15.6 7.4" fill="none" stroke="#8a939c" stroke-width="1.2"/><path d="M5.6 16L13.4 6.2M4.6 12.4L9.6 6" fill="none" stroke="#9aa3ac" stroke-width="1.1"/></svg>
<svg class="r" style="left:342px;top:157px" width="16" height="16" viewBox="0 0 16 16"><path d="M2.4 1.3H13.4Q14.6 1.3 14.6 2.5V11.4Q14.6 12.6 13.4 12.6H4.6L1.6 15V2.5Q1.6 1.3 2.4 1.3Z" fill="#fff" stroke="#6c21b4" stroke-width="1.5" stroke-linejoin="round"/><path d="M4 5Q6 3.9 8 5Q10 6.1 12.3 5M4 8.4Q6 7.3 8 8.4Q10 9.5 12.3 8.4" fill="none" stroke="#6c21b4" stroke-width="1.3"/></svg>
<svg class="r" style="left:364px;top:157px" width="16" height="16" viewBox="0 0 16 16"><path d="M2.4 1.3H13.4Q14.6 1.3 14.6 2.5V11.4Q14.6 12.6 13.4 12.6H4.6L1.6 15V2.5Q1.6 1.3 2.4 1.3Z" fill="#eef6f8" stroke="#1b93a3" stroke-width="1.5" stroke-linejoin="round"/><path d="M10.2 4.2H5.6L8 7 5.6 9.6H10.2" fill="none" stroke="#2a6b7a" stroke-width="1.3"/></svg>
<svg class="r" style="left:386px;top:157px" width="16" height="16" viewBox="0 0 16 16"><g fill="#434b54"><rect x="3.5" y="3.3" width="9.0" height="9.4" rx="1" fill="none" stroke="#434b54" stroke-width="1.5"/><rect x="4.2" y="0.7" width="1.5" height="2.8"/><rect x="4.2" y="12.5" width="1.5" height="2.8"/><rect x="0.7" y="4.0" width="2.8" height="1.5"/><rect x="12.5" y="4.0" width="2.8" height="1.5"/><rect x="7.2" y="0.7" width="1.5" height="2.8"/><rect x="7.2" y="12.5" width="1.5" height="2.8"/><rect x="0.7" y="7.2" width="2.8" height="1.5"/><rect x="12.5" y="7.2" width="2.8" height="1.5"/><rect x="10.3" y="0.7" width="1.5" height="2.8"/><rect x="10.3" y="12.5" width="1.5" height="2.8"/><rect x="0.7" y="10.6" width="2.8" height="1.5"/><rect x="12.5" y="10.6" width="2.8" height="1.5"/><rect x="9.10" y="7.40" width="1.1" height="2.9"/><rect x="9.10" y="5.80" width="1.1" height="1"/></g><path d="M5.20 10.40L6.80 5.80L8.40 10.40M5.80 8.90H7.80" fill="none" stroke="#434b54" stroke-width="1.05"/></svg>
<svg class="r" style="left:408px;top:157px" width="16" height="16" viewBox="0 0 16 16"><path d="M2.4 1.3H13.4Q14.6 1.3 14.6 2.5V11.4Q14.6 12.6 13.4 12.6H4.6L1.6 15V2.5Q1.6 1.3 2.4 1.3Z" fill="#fff" stroke="#ff6a14" stroke-width="1.5" stroke-linejoin="round"/><path d="M4.2 4.4H12.2M4.2 6.8H12.2M4.2 9.2H9" stroke="#ff6a14" stroke-width="1.2"/></svg>
<svg class="r" style="left:430px;top:157px" width="14" height="16" viewBox="0 0 14 16"><rect x="1.3" y="2.4" width="11" height="12.2" rx="1.3" fill="#fff" stroke="#4a5560" stroke-width="1.4"/><rect x="4.2" y="1" width="5.2" height="2.6" rx="0.8" fill="#4a5560"/><path d="M3.8 8.6L6 10.8 10 6.4" fill="none" stroke="#4a5560" stroke-width="1.5"/></svg>
<svg class="r" style="left:503.3px;top:164px" width="5" height="3" viewBox="0 0 5 3"><path d="M0 0H4.8L2.4 2.9Z" fill="#0b5ed0"/></svg>
<svg class="r" style="left:549.5px;top:164px" width="5" height="3" viewBox="0 0 5 3"><path d="M0 0H4.8L2.4 2.9Z" fill="#0b5ed0"/></svg>
<svg class="r" style="left:1258px;top:156px" width="18" height="18" viewBox="0 0 18 18"><g fill="#1e1e1e"><path d="M1.2 1.2H6.2L1.2 6.2Z"/><path d="M16.8 1.2H11.8L16.8 6.2Z"/><path d="M1.2 16.8H6.2L1.2 11.8Z"/><path d="M16.8 16.8H11.8L16.8 11.8Z"/></g><path d="M3 3L6.8 6.8M15 3L11.2 6.8M3 15L6.8 11.2M15 15L11.2 11.2" stroke="#1e1e1e" stroke-width="1.7"/></svg>
<svg class="r" style="left:1265px;top:182px" width="10" height="8" viewBox="0 0 10 8"><path d="M1.4 6L5 2.4 8.6 6" fill="none" stroke="#9a9a9a" stroke-width="1.1"/></svg>
<svg class="r" style="left:1265px;top:612px" width="10" height="8" viewBox="0 0 10 8"><path d="M1.4 2L5 5.6 8.6 2" fill="none" stroke="#9a9a9a" stroke-width="1.1"/></svg>
<div class="t" style="left:19.8px;top:301px;transform:translate(-50%,-50%) rotate(-90deg);font-size:16px;line-height:16px;font-weight:bold;color:#0d3f7a">Titelliste</div>
<div class="t" style="left:56.8px;top:292.5px;transform:translate(-50%,-50%) rotate(-90deg);font-size:16px;line-height:16px;font-weight:bold;color:#0d3f7a">Titelkarten</div>
<svg class="r" style="left:37px;top:372px" width="5" height="36" viewBox="0 0 5 36"><path d="M0 0.5L4 3.2L0 5.9Z" fill="#1f5fb0"/><path d="M0 7.5L4 10.2L0 12.9Z" fill="#1f5fb0"/><path d="M0 14.5L4 17.2L0 19.9Z" fill="#1f5fb0"/><path d="M0 21.5L4 24.2L0 26.9Z" fill="#1f5fb0"/><path d="M0 28.5L4 31.2L0 33.9Z" fill="#1f5fb0"/></svg>
<svg class="r" style="left:72.8px;top:372px" width="5" height="36" viewBox="0 0 5 36"><path d="M0 0.5L4 3.2L0 5.9Z" fill="#1f5fb0"/><path d="M0 7.5L4 10.2L0 12.9Z" fill="#1f5fb0"/><path d="M0 14.5L4 17.2L0 19.9Z" fill="#1f5fb0"/><path d="M0 21.5L4 24.2L0 26.9Z" fill="#1f5fb0"/><path d="M0 28.5L4 31.2L0 33.9Z" fill="#1f5fb0"/></svg>
<svg class="r" style="left:166px;top:633px" width="19" height="14" viewBox="0 0 19 14"><path d="M1.3 2.8H6M1.3 7.4H6M1.3 11.6H11.2" stroke="#e8453a" stroke-width="1.8"/><circle cx="11.6" cy="5.7" r="3.3" fill="none" stroke="#1f4e80" stroke-width="1.9"/><path d="M14 8.2L17.4 11.4" stroke="#1f4e80" stroke-width="2" stroke-linecap="round"/></svg>
<svg class="r" style="left:201px;top:632px" width="16" height="16" viewBox="0 0 16 16"><defs><radialGradient id="gu201" cx="0.5" cy="0.5" r="0.6"><stop offset="0.3" stop-color="#ffffff"/><stop offset="1" stop-color="#c6dcf8"/></radialGradient></defs><circle cx="8" cy="8" r="7.2" fill="url(#gu201)" stroke="#8fb6e8" stroke-width="1.2"/><path d="M8 12V5M5 7.8L8 4.6 11 7.8" fill="none" stroke="#2d65a8" stroke-width="1.9" stroke-linejoin="round"/></svg>
<svg class="r" style="left:225px;top:632px" width="16" height="16" viewBox="0 0 16 16"><defs><radialGradient id="gu225" cx="0.5" cy="0.5" r="0.6"><stop offset="0.3" stop-color="#ffffff"/><stop offset="1" stop-color="#c6dcf8"/></radialGradient></defs><circle cx="8" cy="8" r="7.2" fill="url(#gu225)" stroke="#8fb6e8" stroke-width="1.2"/><path d="M8 4V11M5 8.2L8 11.4 11 8.2" fill="none" stroke="#2d65a8" stroke-width="1.9" stroke-linejoin="round"/></svg>
<svg class="r" style="left:1106px;top:628px" width="56" height="22" viewBox="0 0 56 22"><defs><linearGradient id="gfw" x1="0" y1="0" x2="0" y2="1"><stop offset="0" stop-color="#ffffff"/><stop offset="1" stop-color="#c9dcf0"/></linearGradient><linearGradient id="gfp" x1="0" y1="0" x2="1" y2="1"><stop offset="0" stop-color="#ffffff"/><stop offset="1" stop-color="#c4d8ee"/></linearGradient></defs><rect x="4.6" y="4" width="11.6" height="6" fill="url(#gfw)"/><rect x="4.2" y="9.4" width="12.6" height="2.6" fill="#8fb2d8"/><rect x="4.6" y="12.2" width="11.6" height="5.6" fill="#e4eef8"/><path d="M4.7 4V11.6M16 4V11.6M4.7 12.4V17.9M16 12.4V17.9" stroke="#6d9fd2" stroke-width="1.3"/><path d="M6.2 14.9L8.4 13.6V16.2Z M14.4 14.9L12.2 13.6V16.2Z" fill="#3f7fc4"/><path d="M8 14.9H12.6" stroke="#a8c4e4" stroke-width="0.9"/><rect x="40" y="4.7" width="11.4" height="13" rx="1.2" fill="url(#gfp)" stroke="#5f98d0" stroke-width="1.3"/><path d="M45.7 8.4L44 5.4H47.4Z M45.7 14L44 17H47.4Z M43.6 11.2L40.8 9.6V12.8Z M47.8 11.2L50.6 9.6V12.8Z" fill="#3a7cc2"/><path d="M42 6.8L49.4 15.6M49.4 6.8L42 15.6" stroke="#ffffff" stroke-width="1.2" opacity="0.9"/></svg>
<svg class="r" style="left:1180px;top:631.5px" width="16" height="16" viewBox="0 0 16 16"><rect x="0.8" y="0.8" width="14.4" height="14.4" rx="1" fill="#fff" stroke="#5d94cc" stroke-width="1.4"/><path d="M3.5 8H12.5" stroke="#1f5aa0" stroke-width="2"/></svg>
<svg class="r" style="left:1254.5px;top:631.5px" width="16" height="16" viewBox="0 0 16 16"><rect x="0.8" y="0.8" width="14.4" height="14.4" rx="1" fill="#fff" stroke="#5d94cc" stroke-width="1.4"/><path d="M3.5 8H12.5M8 3.5V12.5" stroke="#1f5aa0" stroke-width="2"/></svg>
<svg class="r" style="left:1129px;top:659px" width="14" height="16" viewBox="0 0 14 16"><path d="M2 11.6Q3 10.4 3 7.8Q3 3.2 7 3Q11 3.2 11 7.8Q11 10.4 12 11.6Z" fill="#3a3a3a"/><rect x="1" y="11" width="12" height="1.6" rx="0.6" fill="#3a3a3a"/><circle cx="7" cy="13.6" r="1.6" fill="#3a3a3a"/><rect x="6.2" y="1.6" width="1.6" height="2" fill="#3a3a3a"/></svg>
<div class="r" style="left:173.2px;top:149.9px;width:26.8px;height:26.8px;border-radius:50%;background:#ff4242;box-shadow:0.6px 1.8px 2.2px rgba(30,60,60,0.55)"></div>
<div class="t" style="left:176.6px;width:20px;text-align:center;top:155.4px;font-size:16px;line-height:16px;color:#fff">a</div>
<div class="r" style="left:243.8px;top:152.0px;width:26.8px;height:26.8px;border-radius:50%;background:#ff4242;box-shadow:0.6px 1.8px 2.2px rgba(30,60,60,0.55)"></div>
<div class="t" style="left:247.2px;width:20px;text-align:center;top:157.5px;font-size:16px;line-height:16px;color:#fff">c</div>
<div class="r" style="left:470.0px;top:256.0px;width:26.8px;height:26.8px;border-radius:50%;background:#ff4242;box-shadow:0.6px 1.8px 2.2px rgba(30,60,60,0.55)"></div>
<div class="t" style="left:473.4px;width:20px;text-align:center;top:261.5px;font-size:16px;line-height:16px;color:#fff">b</div>
</body></html>
